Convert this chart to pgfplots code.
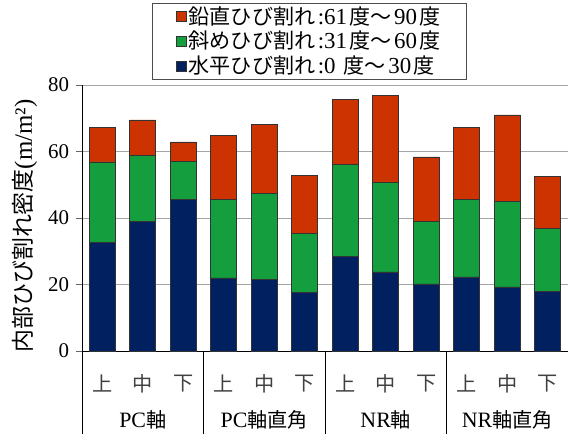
\documentclass[border=0pt]{standalone}
\usepackage{fontspec}
\setmainfont{Liberation Serif}
\newfontfamily\cjk[Scale=0.92]{Noto Sans CJK JP}
\usepackage{pgfplots}
\pgfplotsset{compat=1.18}
\definecolor{cred}{RGB}{204,51,0}
\definecolor{cgreen}{RGB}{20,158,62}
\definecolor{cnavy}{RGB}{0,32,96}
\newcommand{\ls}{\hspace{2.5bp}}
\begin{document}
\fontsize{20}{24}\selectfont
\begin{tikzpicture}
\path[use as bounding box] (-82bp,-83bp) rectangle (486bp,351bp);
\begin{axis}[
  at={(0,0)}, anchor=south west,
  scale only axis, width=486bp, height=266bp,
  clip=false,
  ybar stacked, bar width=26bp,
  xmin=-0.5, xmax=11.5, ymin=0, ymax=80,
  xtick={0,...,11},
  xticklabels={上,中,下,上,中,下,上,中,下,上,中,下},
  xticklabel style={font=\fontsize{22}{24}\selectfont\cjk, text=black!75, anchor=center, yshift=-27bp},
  ytick={0,20,40,60,80},
  yticklabel style={font=\fontsize{21}{24}\selectfont, text=black},
  /pgf/number format/assume math mode=true,
  ymajorgrids, grid style={black!35, line width=0.9pt},
  axis line style={-, line width=0.8pt},
  x axis line style={black},
  y axis line style={black},
  separate axis lines,
  axis x line*=bottom, axis y line*=left,
  tick align=outside,
  xtick style={draw=none},
  ytick style={black!60, line width=0.8pt},
  major tick length=6bp,
  extra x ticks={-0.5,2.5,5.5,8.5,11.5},
  extra x tick labels={},
  extra x tick style={xtick style={draw=black, line width=0.8pt}, major tick length=83bp},
  ylabel={{\cjk 内部ひび割れ密度}(m/m²)},
  ylabel style={font=\fontsize{25}{28}\selectfont, at={(axis description cs:0,0.5)}, anchor=center, yshift=57bp, xshift=-8bp},
  legend style={at={(0.468,1.019)}, anchor=south, draw=black!70, line width=0.9pt,
    font=\fontsize{23}{25}\selectfont, cells={anchor=west}, row sep=0bp, inner xsep=24bp, inner ysep=1bp},
  reverse legend,
  legend image code/.code={\draw[#1, draw=black!80, line width=0.6pt] (0bp,-5bp) rectangle (10bp,5bp);},
  every axis plot/.append style={draw=black!80, line width=0.6pt},
]
\addplot[fill=cnavy] coordinates {(0,32.6) (1,39.0) (2,45.6) (3,22.0) (4,21.6) (5,17.6) (6,28.5) (7,23.8) (8,20.2) (9,22.3) (10,19.3) (11,17.9)};
\addplot[fill=cgreen] coordinates {(0,24.3) (1,19.9) (2,11.5) (3,23.6) (4,25.7) (5,17.7) (6,27.6) (7,26.9) (8,18.8) (9,23.3) (10,25.6) (11,18.9)};
\addplot[fill=cred] coordinates {(0,10.3) (1,10.6) (2,5.8) (3,19.2) (4,20.8) (5,17.5) (6,19.5) (7,26.2) (8,19.4) (9,21.6) (10,26.1) (11,15.6)};
\addlegendentry{{\cjk 水平ひび割れ}\ls:0\ls\ {\cjk 度～}\ls 30\ls{\cjk 度}}
\addlegendentry{{\cjk 斜めひび割れ}\ls:31\ls{\cjk 度～}\ls 60\ls{\cjk 度}}
\addlegendentry{{\cjk 鉛直ひび割れ}\ls:61\ls{\cjk 度～}\ls 90\ls{\cjk 度}}
\node[font=\fontsize{22}{24}\selectfont] at ([yshift=-69bp]axis cs:1,0) {PC{\cjk 軸}};
\node[font=\fontsize{22}{24}\selectfont] at ([yshift=-69bp]axis cs:4,0) {PC{\cjk 軸直角}};
\node[font=\fontsize{22}{24}\selectfont] at ([yshift=-69bp]axis cs:7,0) {NR{\cjk 軸}};
\node[font=\fontsize{22}{24}\selectfont] at ([yshift=-69bp]axis cs:10,0) {NR{\cjk 軸直角}};
\end{axis}
\end{tikzpicture}
\end{document}
